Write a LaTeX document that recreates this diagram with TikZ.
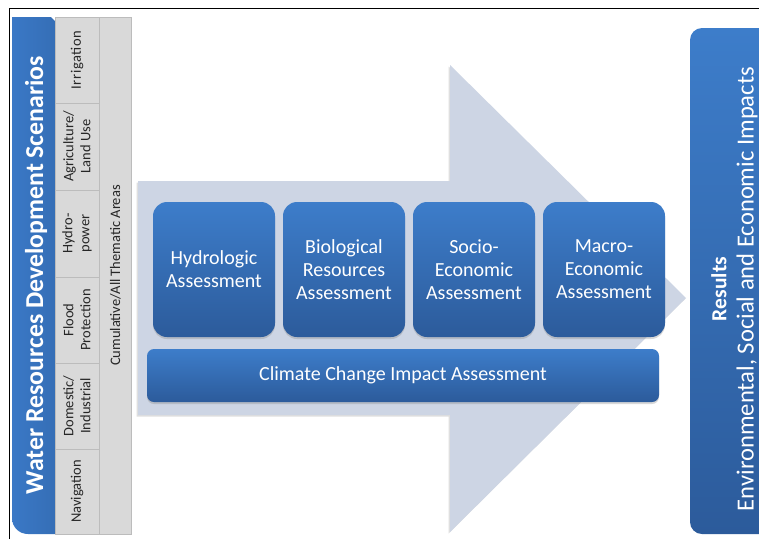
\documentclass[tikz,border=0pt]{standalone}
\usepackage{fontspec}
\setmainfont{Carlito}
\usetikzlibrary{shadows}
\definecolor{bluetop}{HTML}{3D7DCA}
\definecolor{bluebot}{HTML}{2C5B9B}
\definecolor{arrowfill}{HTML}{CDD5E4}
\definecolor{cellfill}{HTML}{D9D9D9}
\definecolor{celldraw}{HTML}{BCBCBC}
\definecolor{paneblue}{HTML}{3A78C6}
\definecolor{celltext}{HTML}{262626}
\tikzset{
  assess/.style={rounded corners=14pt, top color=bluetop, bottom color=bluebot,
    text=white, align=center, inner sep=2pt, font=\fontsize{20}{23}\selectfont,
    drop shadow={opacity=0.3, shadow xshift=0pt, shadow yshift=-2pt}},
  cell/.style={rotate=90, fill=cellfill, draw=celldraw, line width=0.8pt,
    text=celltext, align=center, inner sep=1pt, font=\fontsize{14.5}{17}\selectfont},
  vtext/.style={rotate=90, text=white, inner sep=0pt}
}
\begin{document}
\begin{tikzpicture}[x=1pt,y=-1pt]
\useasboundingbox (0,0) rectangle (759,539);
\fill[white] (0,0) rectangle (759,539);
% frame
\draw[line width=0.8pt] (9,539) -- (9,8) -- (759,8);
% left blue panel
\shade[left color=paneblue, right color=paneblue!92!black]
  (12,17) -- (51,17) -- (55,21) -- (55,534) -- (28,534)
  .. controls (19,534) and (12,527) .. (12,518) -- cycle;
\node[vtext, font=\bfseries\fontsize{25.8}{30}\selectfont] (wr) at (36,275) {Water Resources Development Scenarios};
% gray cells
\node[cell, minimum width=86pt, minimum height=44pt] (irr) at (77,60) {\addfontfeature{LetterSpace=4}Irrigation};
\node[cell, minimum width=87pt, minimum height=44pt] (agr) at (77,146.5) {Agriculture/\\Land Use};
\node[cell, minimum width=87pt, minimum height=44pt] (hyp) at (77,233.5) {Hydro-\\power};
\node[cell, minimum width=86pt, minimum height=44pt] (flo) at (77,320) {Flood\\Protection};
\node[cell, minimum width=86pt, minimum height=44pt] (dom) at (77,406) {Domestic/\\Industrial};
\node[cell, minimum width=85pt, minimum height=44pt] (nav) at (77,491.5) {Navigation};
\node[cell, minimum width=517pt, minimum height=32pt] (cum) at (115.5,275.5) {Cumulative/All Thematic Areas};
% arrow
\path[fill=arrowfill, drop shadow={opacity=0.25, shadow xshift=-1.5pt, shadow yshift=-1.5pt}]
  (138,181) -- (450,181) -- (450,65) -- (686,298) -- (450,532) -- (450,415) -- (138,415) -- cycle;
% assessment boxes
\node[assess, minimum width=122pt, minimum height=135pt] (hyd) at (214,269.5) {Hydrologic\\Assessment};
\node[assess, minimum width=122pt, minimum height=135pt] (bio) at (344,269.5) {Biological\\Resources\\Assessment};
\node[assess, minimum width=122pt, minimum height=135pt] (soc) at (474,269.5) {Socio-\\Economic\\Assessment};
\node[assess, minimum width=122pt, minimum height=135pt] (mac) at (604,269.5) {Macro-\\Economic\\Assessment};
\node[assess, rounded corners=7pt, minimum width=512pt, minimum height=53pt] (cli) at (403,375.5) {Climate Change Impact Assessment};
% results
\shade[rounded corners=12pt, top color=bluetop, bottom color=bluebot] (690,28) rectangle (800,534);
\node[vtext, font=\bfseries\fontsize{21.5}{25}\selectfont] (res) at (719,289) {Results};
\node[vtext, font=\fontsize{24.6}{30}\selectfont] (imp) at (747,289) {Environmental, Social and Economic Impacts};
\end{tikzpicture}
\end{document}
